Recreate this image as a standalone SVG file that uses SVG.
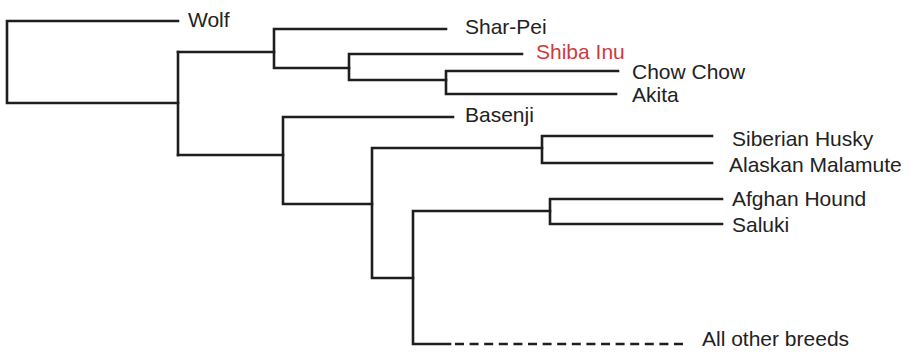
<svg xmlns="http://www.w3.org/2000/svg" width="919" height="356" viewBox="0 0 919 356">
<style>
.e{fill:none;stroke:#1e1e1e;stroke-width:2.6;stroke-linecap:square;stroke-linejoin:miter}
.d{stroke-dasharray:9 5.6;stroke-linecap:butt}
text{font-family:"Liberation Sans",Arial,sans-serif;font-size:21px;fill:#222}
.red{fill:#cc3b3f}
</style>
<rect width="919" height="356" fill="#fff"/>
<g id="connectors">
<path class="e" d="M178,21 H7 V103 H178"/>
<path class="e" d="M178,52 V155"/>
<path class="e" d="M178,52 H274"/>
<path class="e" d="M446,29 H274 V68 H349"/>
<path class="e" d="M522,54 H349 V80 H446"/>
<path class="e" d="M618,71 H446 V94 H616"/>
<path class="e" d="M178,155 H283"/>
<path class="e" d="M453,117 H283 V204 H372"/>
<path class="e" d="M542,148 H372 V278 H413"/>
<path class="e" d="M712,136 H542 V163 H712"/>
<path class="e" d="M550,211 H413 V344 H450"/>
<path class="e" d="M722,199 H550 V224 H722"/>
<path class="e d" d="M455,344 H688"/>
</g>
<g id="wolf"><text x="188" y="27">Wolf</text></g>
<g id="shar-pei"><text x="465" y="34">Shar-Pei</text></g>
<g id="shiba-inu"><text class="red" x="536" y="59">Shiba Inu</text></g>
<g id="chow-chow"><text x="632" y="79">Chow Chow</text></g>
<g id="akita"><text x="632" y="102">Akita</text></g>
<g id="basenji"><text x="465" y="122">Basenji</text></g>
<g id="siberian-husky"><text x="732" y="146">Siberian Husky</text></g>
<g id="alaskan-malamute"><text x="729" y="172">Alaskan Malamute</text></g>
<g id="afghan-hound"><text x="732" y="206">Afghan Hound</text></g>
<g id="saluki"><text x="732" y="232">Saluki</text></g>
<g id="all-other-breeds"><text x="702" y="346">All other breeds</text></g>
</svg>
